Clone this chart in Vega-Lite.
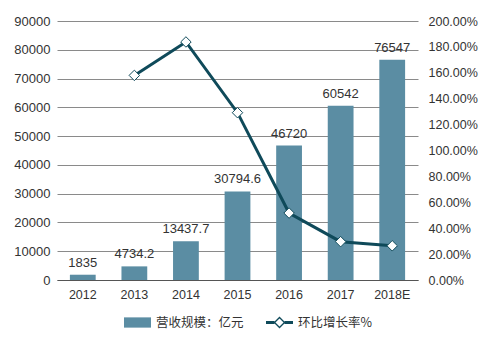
{
  "$schema": "https://vega.github.io/schema/vega-lite/v6.json",
  "width": 361,
  "height": 259,
  "autosize": {"type": "none"},
  "padding": {"left": 57, "top": 21, "right": 69, "bottom": 71},
  "background": "white",
  "config": {
    "font": "Liberation Sans",
    "view": {"stroke": null},
    "axis": {"labelFont": "Liberation Sans", "labelFontSize": 12.5, "labelColor": "#333333"}
  },
  "data": {
    "values": [
      {"year": "2012", "revenue": 1835, "label": "1835", "rate": null},
      {"year": "2013", "revenue": 4734.2, "label": "4734.2", "rate": 1.58},
      {"year": "2014", "revenue": 13437.7, "label": "13437.7", "rate": 1.838},
      {"year": "2015", "revenue": 30794.6, "label": "30794.6", "rate": 1.292},
      {"year": "2016", "revenue": 46720, "label": "46720", "rate": 0.517},
      {"year": "2017", "revenue": 60542, "label": "60542", "rate": 0.296},
      {"year": "2018E", "revenue": 76547, "label": "76547", "rate": 0.264}
    ]
  },
  "encoding": {
    "x": {
      "field": "year", "type": "ordinal", "sort": null,
      "scale": {"paddingInner": 0.5, "paddingOuter": 0.25},
      "axis": {"title": null, "labelAngle": 0, "ticks": false, "domainColor": "#555555", "labelPadding": 8, "labelFontSize": 12.5}
    }
  },
  "layer": [
    {
      "encoding": {
        "y": {
          "field": "revenue", "type": "quantitative",
          "scale": {"domain": [0, 90000]},
          "axis": {"title": null, "format": "d", "labelFontSize": 13, "values": [0,10000,20000,30000,40000,50000,60000,70000,80000,90000], "ticks": false, "domain": false, "gridColor": "#8a8a8a", "gridWidth": 1, "labelPadding": 7}
        }
      },
      "layer": [
        {
          "mark": {"type": "bar", "color": "#5B8DA3"},
          "transform": [{"calculate": "'营收规模：亿元'", "as": "series"}],
          "encoding": {
            "color": {
              "field": "series", "type": "nominal",
              "scale": {"domain": ["营收规模：亿元", "环比增长率%"], "range": ["#5B8DA3", "#0F4A5A"]},
              "legend": {
                "title": null, "orient": "none", "direction": "horizontal",
                "legendX": 67, "legendY": 288, "columnPadding": 22,
                "labelFont": "Noto Sans CJK SC", "labelFontSize": 12.5, "labelColor": "#333333",
                "symbolSize": 729, "labelOffset": 5,
                "encode": {
                  "symbols": {
                    "update": {
                      "shape": {"signal": "datum.value === '营收规模：亿元' ? 'M-1,-0.38H1V0.38H-1Z' : 'M-1,-0.11H-0.38V0.11H-1ZM0.38,-0.11H1V0.11H0.38ZM0,-0.44L0.44,0L0,0.44L-0.44,0ZM0,-0.3L-0.3,0L0,0.3L0.3,0Z'"},
                      "fill": {"signal": "datum.value === '营收规模：亿元' ? '#5B8DA3' : '#0F4A5A'"},
                      "strokeWidth": {"value": 0},
                      "opacity": {"value": 1},
                      "fillOpacity": {"value": 1}
                    }
                  }
                }
              }
            }
          }
        },
        {
          "mark": {"type": "text", "dy": -12, "fontSize": 13, "color": "#333333"},
          "encoding": {
            "text": {"field": "label", "type": "nominal"}
          }
        }
      ]
    },
    {
      "transform": [{"filter": "datum.rate != null"}, {"calculate": "'环比增长率%'", "as": "series"}],
      "encoding": {
        "y": {
          "field": "rate", "type": "quantitative",
          "scale": {"domain": [0, 2]},
          "axis": {"title": null, "orient": "right", "format": ".2%", "values": [0,0.2,0.4,0.6,0.8,1,1.2,1.4,1.6,1.8,2], "ticks": false, "domain": false, "grid": false, "labelPadding": 10}
        }
      },
      "layer": [
        {
          "mark": {"type": "line", "strokeWidth": 3},
          "encoding": {
            "color": {"field": "series", "type": "nominal"}
          }
        },
        {
          "mark": {"type": "point", "shape": "diamond", "filled": true, "fill": "white", "stroke": "#0F4A5A", "strokeWidth": 1, "size": 110, "opacity": 1}
        }
      ]
    }
  ],
  "resolve": {"scale": {"y": "independent"}}
}
